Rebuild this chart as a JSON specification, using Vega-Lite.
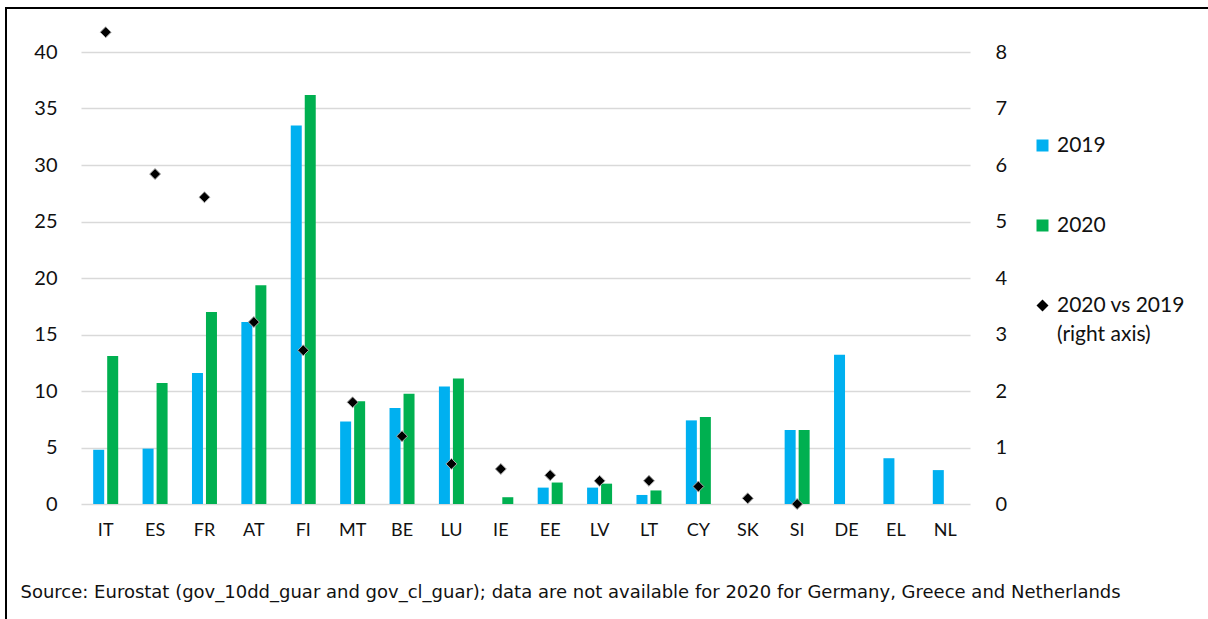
{
  "$schema": "https://vega.github.io/schema/vega-lite/v6.json",
  "autosize": {"type": "none"},
  "width": 1212,
  "height": 623,
  "padding": {"left": 6, "top": 8, "right": -10, "bottom": -12},
  "background": "white",
  "config": {
    "view": {"stroke": "black", "strokeWidth": 2},
    "font": "Lato",
    "axis": {"labelFont": "Lato", "labelColor": "#111111", "titleFont": "Lato"},
    "legend": {"labelFont": "Lato"}
  },
  "datasets": {
    "bars": [
      {"c": "IT", "series": "2019", "value": 4.8},
      {"c": "IT", "series": "2020", "value": 13.1},
      {"c": "ES", "series": "2019", "value": 4.9},
      {"c": "ES", "series": "2020", "value": 10.7},
      {"c": "FR", "series": "2019", "value": 11.6},
      {"c": "FR", "series": "2020", "value": 17.0},
      {"c": "AT", "series": "2019", "value": 16.1},
      {"c": "AT", "series": "2020", "value": 19.35},
      {"c": "FI", "series": "2019", "value": 33.5},
      {"c": "FI", "series": "2020", "value": 36.2},
      {"c": "MT", "series": "2019", "value": 7.3},
      {"c": "MT", "series": "2020", "value": 9.1},
      {"c": "BE", "series": "2019", "value": 8.5},
      {"c": "BE", "series": "2020", "value": 9.75},
      {"c": "LU", "series": "2019", "value": 10.4},
      {"c": "LU", "series": "2020", "value": 11.1},
      {"c": "IE", "series": "2020", "value": 0.6},
      {"c": "EE", "series": "2019", "value": 1.45},
      {"c": "EE", "series": "2020", "value": 1.9},
      {"c": "LV", "series": "2019", "value": 1.45},
      {"c": "LV", "series": "2020", "value": 1.8},
      {"c": "LT", "series": "2019", "value": 0.8},
      {"c": "LT", "series": "2020", "value": 1.2},
      {"c": "CY", "series": "2019", "value": 7.4},
      {"c": "CY", "series": "2020", "value": 7.7},
      {"c": "SI", "series": "2019", "value": 6.55},
      {"c": "SI", "series": "2020", "value": 6.55},
      {"c": "DE", "series": "2019", "value": 13.2},
      {"c": "EL", "series": "2019", "value": 4.05},
      {"c": "NL", "series": "2019", "value": 3.0}
    ],
    "ratio": [
      {"c": "IT", "series": "2020 vs 2019 (right axis)", "ratio": 8.35},
      {"c": "ES", "series": "2020 vs 2019 (right axis)", "ratio": 5.84},
      {"c": "FR", "series": "2020 vs 2019 (right axis)", "ratio": 5.43},
      {"c": "AT", "series": "2020 vs 2019 (right axis)", "ratio": 3.22},
      {"c": "FI", "series": "2020 vs 2019 (right axis)", "ratio": 2.72},
      {"c": "MT", "series": "2020 vs 2019 (right axis)", "ratio": 1.8},
      {"c": "BE", "series": "2020 vs 2019 (right axis)", "ratio": 1.2},
      {"c": "LU", "series": "2020 vs 2019 (right axis)", "ratio": 0.71},
      {"c": "IE", "series": "2020 vs 2019 (right axis)", "ratio": 0.62},
      {"c": "EE", "series": "2020 vs 2019 (right axis)", "ratio": 0.51},
      {"c": "LV", "series": "2020 vs 2019 (right axis)", "ratio": 0.41},
      {"c": "LT", "series": "2020 vs 2019 (right axis)", "ratio": 0.41},
      {"c": "CY", "series": "2020 vs 2019 (right axis)", "ratio": 0.31},
      {"c": "SK", "series": "2020 vs 2019 (right axis)", "ratio": 0.1},
      {"c": "SI", "series": "2020 vs 2019 (right axis)", "ratio": 0.0}
    ]
  },
  "layer": [
    {
      "data": {"name": "bars"},
      "mark": {"type": "bar", "width": 11},
      "encoding": {
        "x": {
          "field": "c", "type": "nominal",
          "scale": {
            "domain": ["IT","ES","FR","AT","FI","MT","BE","LU","IE","EE","LV","LT","CY","SK","SI","DE","EL","NL"],
            "range": [75, 964], "paddingInner": 0, "paddingOuter": 0
          },
          "axis": {
            "title": "Source: Eurostat (gov_10dd_guar and gov_cl_guar); data are not available for 2020 for Germany, Greece and Netherlands",
            "titleFont": "DejaVu Sans", "titleFontSize": 18, "titleFontWeight": "normal", "titleColor": "#111111",
            "titleX": 14, "titleY": 88, "titleAlign": "left", "titleBaseline": "middle", "titleAnchor": "start",
            "offset": -127, "labelAngle": 0, "labelFontSize": 18, "labelPadding": 17,
            "domain": false, "ticks": false, "grid": false
          }
        },
        "xOffset": {
          "field": "series", "type": "nominal",
          "scale": {"domain": ["2019", "2020"], "paddingInner": 0, "paddingOuter": 0.764}
        },
        "y": {
          "field": "value", "type": "quantitative",
          "scale": {"domain": [0, 42], "range": [496, 21.4], "nice": false},
          "axis": {
            "title": null, "values": [0,5,10,15,20,25,30,35,40], "offset": -75,
            "labelFontSize": 20, "labelPadding": 24, "domain": false, "ticks": false,
            "grid": true, "gridColor": "#d9d9d9", "gridWidth": 1.6
          }
        },
        "color": {
          "field": "series", "type": "nominal",
          "scale": {
            "domain": ["2019", "2020", "2020 vs 2019 (right axis)"],
            "range": ["#00B0F0", "#00B050", "#000000"]
          },
          "legend": {
            "title": null, "orient": "none", "legendX": 1026, "legendY": 127,
            "symbolSize": 144, "symbolStrokeWidth": 0, "labelFontSize": 21, "labelColor": "#111111",
            "labelOffset": 4, "rowPadding": 58, "padding": 0,
            "labelExpr": "datum.value == '2020 vs 2019 (right axis)' ? ['2020 vs 2019', '(right axis)'] : datum.label",
            "encode": {"labels": {"update": {"lineHeight": {"value": 29}}}}
          }
        }
      }
    },
    {
      "data": {"name": "ratio"},
      "mark": {"type": "point", "filled": true, "size": 120, "stroke": "#aaaaaa", "strokeWidth": 1, "opacity": 1},
      "encoding": {
        "x": {"field": "c", "type": "nominal"},
        "y": {
          "field": "ratio", "type": "quantitative",
          "scale": {"domain": [0, 8.4], "range": [496, 21.4], "nice": false},
          "axis": {
            "title": null, "orient": "right", "values": [0,1,2,3,4,5,6,7,8], "offset": -248,
            "labelFontSize": 20, "labelPadding": 25, "domain": false, "ticks": false, "grid": false
          }
        },
        "color": {"field": "series", "type": "nominal"},
        "shape": {
          "field": "series", "type": "nominal",
          "scale": {
            "domain": ["2019", "2020", "2020 vs 2019 (right axis)"],
            "range": ["square", "square", "diamond"]
          }
        }
      }
    }
  ],
  "resolve": {"scale": {"y": "independent"}}
}
